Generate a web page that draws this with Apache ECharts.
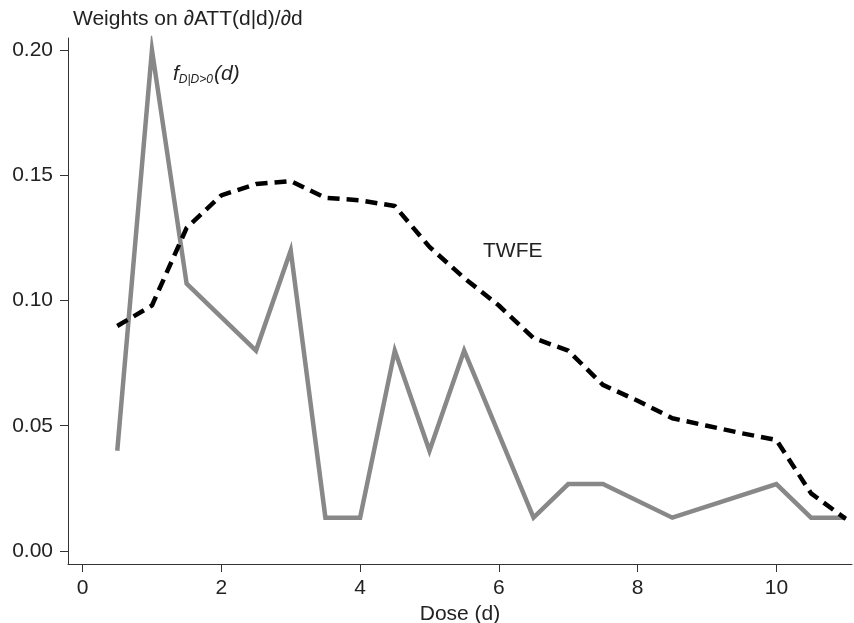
<!DOCTYPE html>
<html>
<head>
<meta charset="utf-8">
<script src="https://cdn.jsdelivr.net/npm/echarts@6/dist/echarts.min.js"></script>
<style>
  html, body { margin: 0; padding: 0; background: #fff; }
  #chart { width: 854px; height: 623px; }
</style>
</head>
<body>
<div id="chart"></div>
<script>
// dose grid and the two weight curves
const densityDose = [0.5, 1, 1.5, 2.5, 3, 3.5, 4, 4.5, 5, 5.5, 6.5, 7, 7.5, 8.5, 10, 10.5, 11]
const densityVals = [0.040, 0.200, 0.1067, 0.080, 0.120, 0.0133, 0.0133, 0.080, 0.040, 0.080, 0.0133, 0.0267, 0.0267, 0.0133, 0.0267, 0.0133, 0.0133]
const twfeDose = [0.5, 1, 1.5, 2, 2.5, 3, 3.5, 4, 4.5, 5, 5.5, 6, 6.5, 7, 7.5, 8, 8.5, 9, 9.5, 10, 10.5, 11]
const twfeVals = [0.0898, 0.098, 0.129, 0.142, 0.1465, 0.1477, 0.141, 0.140, 0.1377, 0.1214, 0.109, 0.098, 0.085, 0.080, 0.0663, 0.060, 0.053, 0.050, 0.047, 0.0443, 0.023, 0.0128]
const xTicks = [0, 2, 4, 6, 8, 10]
const yTicks = [0, 0.05, 0.10, 0.15, 0.20]

const font = 'Liberation Sans, Arial, sans-serif'
const chart = echarts.init(document.getElementById('chart'))

const option = {
  animation: false,
  backgroundColor: '#fff',
  title: {
    text: 'Weights on \u2202ATT(d|d)/\u2202d',
    left: 73,
    top: 9,
    padding: 0,
    textStyle: { fontFamily: font, fontSize: 21, fontWeight: 'normal', color: '#222', letterSpacing: 1.5 }
  },
  grid: { left: 68, right: 2, top: 38, bottom: 59, containLabel: false, outerBoundsMode: 'none' },
  xAxis: {
    type: 'value',
    min: -0.21,
    max: 11.09,
    name: 'Dose (d)',
    nameLocation: 'middle',
    nameGap: 37,
    nameTextStyle: { fontFamily: font, fontSize: 21, color: '#222' },
    axisLine: { onZero: false, lineStyle: { color: '#333', width: 1 } },
    axisTick: { show: true, length: 8, customValues: xTicks, lineStyle: { color: '#333' } },
    axisLabel: { customValues: xTicks, fontFamily: font, fontSize: 21, color: '#222', margin: 14 },
    splitLine: { show: false }
  },
  yAxis: {
    type: 'value',
    min: -0.0052,
    max: 0.2048,
    axisLine: { show: true, onZero: false, lineStyle: { color: '#333', width: 1 } },
    axisTick: { show: true, length: 8, customValues: yTicks, lineStyle: { color: '#333' } },
    axisLabel: {
      customValues: yTicks,
      fontFamily: font, fontSize: 21, color: '#222', margin: 15,
      formatter: v => v.toFixed(2)
    },
    splitLine: { show: false }
  },
  series: [
    {
      type: 'line',
      name: 'density',
      data: densityDose.map((d, i) => [d, densityVals[i]]),
      showSymbol: false,
      lineStyle: { color: '#888', width: 4.5, join: 'miter' },
      z: 2
    },
    {
      type: 'line',
      name: 'TWFE',
      data: twfeDose.map((d, i) => [d, twfeVals[i]]),
      showSymbol: false,
      lineStyle: { color: '#000', width: 4.5, type: [12, 7] },
      z: 3
    }
  ],
  graphic: [
    {
      type: 'text',
      left: 173,
      top: 64,
      style: {
        text: '{f|f}{s|D|D>0}{f|(d)}',
        rich: {
          f: { fontFamily: font, fontSize: 21, fontStyle: 'italic', fill: '#222' },
          s: { fontFamily: font, fontSize: 12, fontStyle: 'italic', fill: '#222', verticalAlign: 'bottom', padding: [10, 1, 0, 0] }
        }
      }
    },
    {
      type: 'text',
      left: 483,
      top: 241,
      style: { text: 'TWFE', fontFamily: font, fontSize: 21, fill: '#222' }
    }
  ]
}

chart.setOption(option)
window.addEventListener('resize', () => {
  chart.resize()
})
</script>
</body>
</html>
